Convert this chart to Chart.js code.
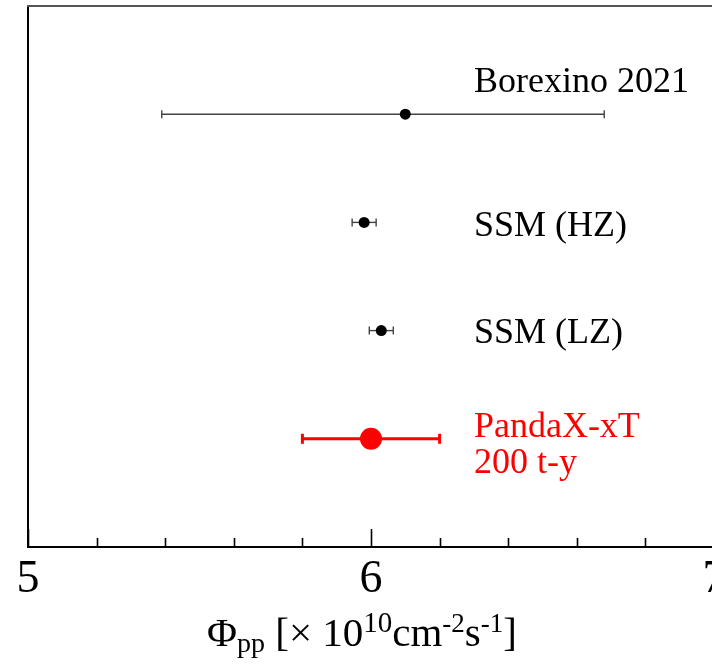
<!DOCTYPE html>
<html>
<head>
<meta charset="utf-8">
<script src="https://cdn.jsdelivr.net/npm/chart.js@4"></script>
<style>
  html, body { margin: 0; padding: 0; background: #fff; overflow: hidden; }
  #wrap { width: 740px; height: 671px; }
</style>
</head>
<body>
<div id="wrap"><canvas id="fluxChart" width="740" height="671"></canvas></div>
<script>
// measurements of the pp solar neutrino flux (x 10^10 cm^-2 s^-1)
const measurements = ['Borexino 2021', 'SSM (HZ)', 'SSM (LZ)', 'PandaX-xT'];
const extraLines = ['', '', '', '200 t-y'];
const rows = [4, 3, 2, 1];
const centralValues = [6.10, 5.98, 6.03, 6.00];
const lowerValues = [5.39, 5.945, 5.995, 5.80];
const upperValues = [6.68, 6.015, 6.065, 6.20];
const xTickLabels = [5, 6, 7];

// styling per row
const markColors = ['#000', '#000', '#000', '#ff0000'];
const barColors = ['#444', '#444', '#444', '#ff0000'];
const dotRadius = [5.5, 5.5, 5.5, 11];
const barWidth = [1.4, 1.4, 1.4, 3];
const capHalf = [4, 4, 4, 5];
const labelOffsets = [-22, 14, 12, -2];

const serif = "'Liberation Serif', 'DejaVu Serif', serif";

const errorBars = rows.map((r, i) => ({
    type: 'line',
    order: 2,
    data: [{ x: lowerValues[i], y: r }, { x: upperValues[i], y: r }],
    borderColor: barColors[i],
    borderWidth: barWidth[i],
    pointStyle: 'line',
    pointRotation: 90,
    pointRadius: capHalf[i],
    pointHoverRadius: capHalf[i],
    pointBorderColor: barColors[i],
    pointBorderWidth: barWidth[i],
    fill: false
}));

const dots = {
    type: 'scatter',
    order: 1,
    data: rows.map((r, i) => ({ x: centralValues[i], y: r })),
    pointRadius: dotRadius,
    pointHoverRadius: dotRadius,
    pointBackgroundColor: markColors,
    pointBorderColor: markColors,
    pointBorderWidth: 0
};

const isMajor = v => Math.abs(v - Math.round(v)) < 1e-6;

const decorations = {
    id: 'decorations',
    afterDraw(chart) {
        const { ctx, chartArea, scales: { x, y } } = chart;
        ctx.save();

        // frame top line
        ctx.strokeStyle = '#555';
        ctx.lineWidth = 2;
        ctx.beginPath();
        ctx.moveTo(chartArea.left - 1, chartArea.top);
        ctx.lineTo(chartArea.right, chartArea.top);
        ctx.stroke();

        // inward tick marks
        ctx.strokeStyle = '#000';
        ctx.lineWidth = 1.6;
        x.ticks.forEach(t => {
            const px = Math.round(x.getPixelForValue(t.value)) + 0.5;
            const len = isMajor(t.value) ? 18 : 9;
            ctx.beginPath();
            ctx.moveTo(px, chartArea.bottom);
            ctx.lineTo(px, chartArea.bottom - len);
            ctx.stroke();
        });

        // row labels
        ctx.font = '36px ' + serif;
        ctx.textAlign = 'left';
        ctx.textBaseline = 'alphabetic';
        const lx = x.getPixelForValue(6.3);
        rows.forEach((r, i) => {
            const py = y.getPixelForValue(r) + labelOffsets[i];
            ctx.fillStyle = markColors[i];
            ctx.fillText(measurements[i], lx, py);
            if (extraLines[i]) ctx.fillText(extraLines[i], lx, py + 36);
        });

        // axis title with sub/superscripts
        const parts = [
            { t: '\u03A6', s: 41, dy: 0 },
            { t: 'pp', s: 28, dy: 6 },
            { t: ' [\u00D7 10', s: 41, dy: 0 },
            { t: '10', s: 29, dy: -14 },
            { t: 'cm', s: 41, dy: 0 },
            { t: '-2', s: 27, dy: -14 },
            { t: 's', s: 41, dy: 0 },
            { t: '-1', s: 27, dy: -14 },
            { t: ']', s: 41, dy: 0 }
        ];
        let total = 0;
        parts.forEach(p => { ctx.font = p.s + 'px ' + serif; p.w = ctx.measureText(p.t).width; total += p.w; });
        let tx = 362 - total / 2;
        const base = chartArea.bottom + 99;
        ctx.fillStyle = '#000';
        parts.forEach(p => {
            ctx.font = p.s + 'px ' + serif;
            ctx.fillText(p.t, tx, base + p.dy);
            tx += p.w;
        });

        ctx.restore();
    }
};

new Chart(document.getElementById('fluxChart'), {
    data: { datasets: [dots, ...errorBars] },
    options: {
        responsive: false,
        animation: false,
        events: [],
        layout: { autoPadding: false, padding: { left: 28, right: 26, top: 6, bottom: 54 } },
        plugins: { legend: { display: false }, tooltip: { enabled: false } },
        scales: {
            x: {
                type: 'linear',
                min: 5,
                max: 7,
                afterFit: s => { s.height = 70; },
                grid: { display: false, drawTicks: false },
                border: { display: true, color: '#000', width: 2 },
                ticks: {
                    stepSize: 0.2,
                    autoSkip: false,
                    maxRotation: 0,
                    padding: 5,
                    color: '#000',
                    font: { family: serif, size: 46 },
                    callback: v => (isMajor(v) && xTickLabels.includes(Math.round(v))) ? String(Math.round(v)) : ''
                }
            },
            y: {
                type: 'linear',
                min: 0,
                max: 5,
                afterFit: s => { s.width = 0; s.paddingTop = 0; s.paddingBottom = 0; },
                grid: { display: false, drawTicks: false },
                border: { display: true, color: '#000', width: 2 },
                ticks: { display: false }
            }
        }
    },
    plugins: [decorations]
});
</script>
</body>
</html>
